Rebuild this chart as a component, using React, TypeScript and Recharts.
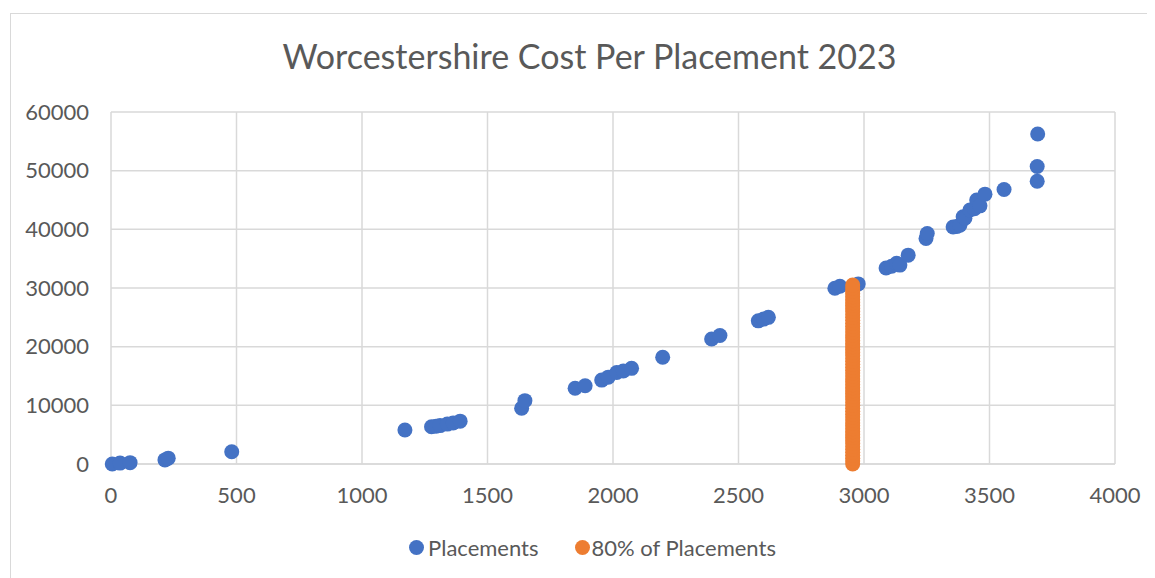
import React from 'react';
import { ScatterChart, Scatter, XAxis, YAxis, CartesianGrid, Legend } from 'recharts';

const placementX = [5, 36, 76, 215, 228, 481, 1171, 1277, 1295, 1311, 1340, 1363, 1391, 1636, 1649, 1849, 1889, 1955, 1981, 2015, 2041, 2074, 2198, 2393, 2426, 2579, 2600, 2619, 2884, 2904, 2977, 3088, 3110, 3130, 3143, 3176, 3247, 3252, 3355, 3370, 3382, 3395, 3402, 3422, 3440, 3449, 3462, 3482, 3558, 3690, 3690, 3692];
const placementY = [0, 150, 230, 700, 1000, 2100, 5800, 6350, 6450, 6550, 6800, 7000, 7300, 9500, 10800, 12900, 13350, 14300, 14800, 15600, 15850, 16300, 18200, 21300, 21900, 24400, 24700, 25000, 29950, 30300, 30700, 33400, 33700, 34200, 33900, 35600, 38450, 39300, 40400, 40500, 40700, 42150, 41900, 43300, 43500, 45000, 44000, 46000, 46800, 48200, 50700, 56250];

const eightyX = 2955;
const eightyY = [0, 500, 1000, 1500, 2000, 2500, 3000, 3500, 4000, 4500, 5000, 5500, 6000, 6500, 7000, 7500, 8000, 8500, 9000, 9500, 10000, 10500, 11000, 11500, 12000, 12500, 13000, 13500, 14000, 14500, 15000, 15500, 16000, 16500, 17000, 17500, 18000, 18500, 19000, 19500, 20000, 20500, 21000, 21500, 22000, 22500, 23000, 23500, 24000, 24500, 25000, 25500, 26000, 26500, 27000, 27500, 28000, 28500, 29000, 29500, 30000, 30500];

const xTicks = [0, 500, 1000, 1500, 2000, 2500, 3000, 3500, 4000];
const yTicks = [0, 10000, 20000, 30000, 40000, 50000, 60000];

const BLUE = '#4472C4';
const ORANGE = '#ED7D31';
const TEXT = '#595959';
const GRID = '#D9D9D9';
const FONT = 'Lato, "Open Sans", sans-serif';

const placements = placementX.map((x, i) => ({ x, y: placementY[i] }));
const eighty = eightyY.map((y) => ({ x: eightyX, y }));

const dot = (color: string) => (props: any) => (
  <circle cx={props.cx} cy={props.cy} r={7.5} fill={color} />
);

const LegendContent = () => (
  <div style={{ display: 'flex', justifyContent: 'center', alignItems: 'center', fontFamily: FONT, fontSize: 22, color: TEXT }}>
    <span style={{ display: 'inline-block', width: 15, height: 15, borderRadius: '50%', background: BLUE, marginRight: 4 }} />
    <span style={{ marginRight: 36 }}>Placements</span>
    <span style={{ display: 'inline-block', width: 15, height: 15, borderRadius: '50%', background: ORANGE, marginRight: 2 }} />
    <span>80% of Placements</span>
  </div>
);

export default function App() {
  return (
    <div style={{ position: 'relative', width: 1147, height: 570, overflow: 'hidden', background: '#fff' }}>
      <div style={{ position: 'absolute', left: 2, top: 5, width: 1300, height: 700, border: '1.5px solid #D9D9D9', boxSizing: 'border-box' }} />
      <div style={{ position: 'absolute', left: 8, top: 27, width: 1147, textAlign: 'center', fontFamily: FONT, fontSize: 34, color: TEXT }}>
        Worcestershire Cost Per Placement 2023
      </div>
      <div style={{ position: 'absolute', left: 0, top: 0 }}>
        <ScatterChart width={1147} height={570} margin={{ top: 104, right: 40, left: 23, bottom: 84 }}>
          <CartesianGrid stroke={GRID} strokeWidth={1.5} />
          <XAxis
            type="number"
            dataKey="x"
            domain={[0, 4000]}
            ticks={xTicks}
            height={30}
            tickLine={false}
            tickSize={0}
            tickMargin={23}
            axisLine={{ stroke: GRID, strokeWidth: 1.5 }}
            tick={{ fill: TEXT, fontSize: 22, fontFamily: FONT }}
          />
          <YAxis
            type="number"
            dataKey="y"
            domain={[0, 60000]}
            ticks={yTicks}
            width={80}
            tickLine={false}
            tickSize={0}
            tickMargin={22}
            axisLine={false}
            tick={{ fill: TEXT, fontSize: 22, fontFamily: FONT }}
          />
          <Scatter name="Placements" data={placements} fill={BLUE} shape={dot(BLUE)} isAnimationActive={false} />
          <Scatter name="80% of Placements" data={eighty} fill={ORANGE} shape={dot(ORANGE)} isAnimationActive={false} />
          <Legend verticalAlign="middle" align="center" content={LegendContent} wrapperStyle={{ top: 526, left: 11, width: 1147, height: 28 }} />
        </ScatterChart>
      </div>
    </div>
  );
}
